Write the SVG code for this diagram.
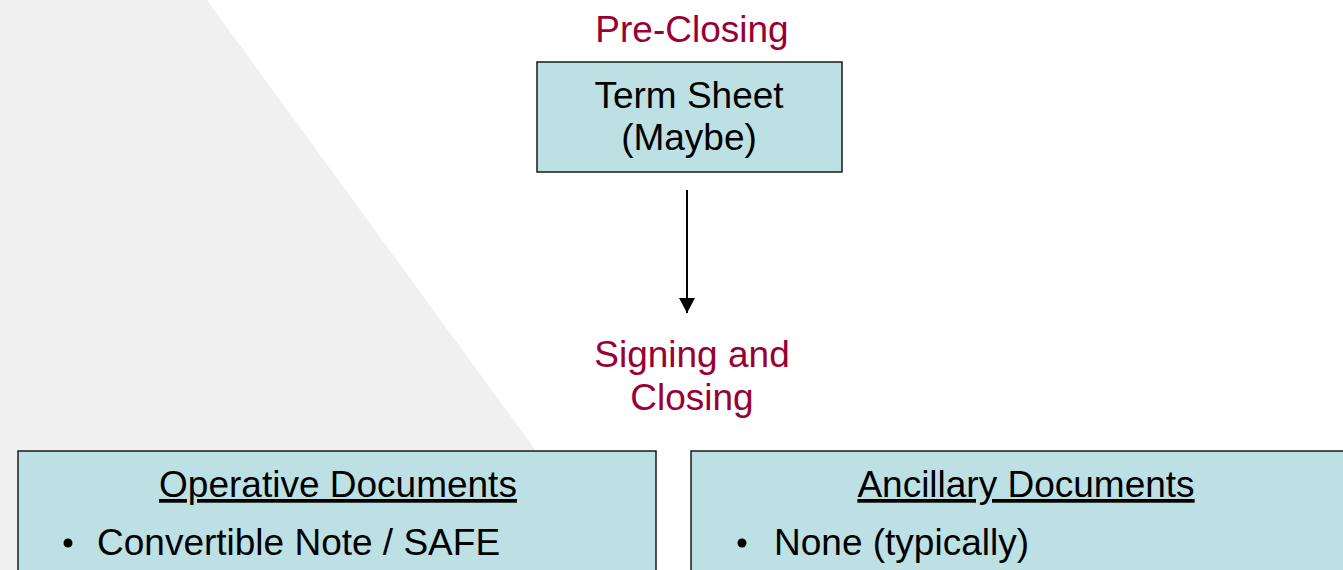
<svg xmlns="http://www.w3.org/2000/svg" width="1343" height="570" viewBox="0 0 1343 570">
<style>
.box{fill:#bce0e3;stroke:#1a1a1a;stroke-width:1.5}
.t{font-family:"Liberation Sans",Arial,sans-serif;font-size:37px;fill:#000}
.red{fill:#990033}
.c{text-anchor:middle}
</style>
<defs>
<marker id="ah" markerWidth="15" markerHeight="16" refX="15" refY="8" orient="auto" markerUnits="userSpaceOnUse">
<path d="M0,0 L15,8 L0,16 Z" fill="#000"/>
</marker>
</defs>
<rect width="1343" height="570" fill="#fff"/>
<polygon points="0,0 207,0 623,570 0,570" fill="#f0f0f0"/>
<g id="pre-closing-label"><text class="t red c" x="692" y="42">Pre-Closing</text></g>
<g id="term-sheet">
<rect class="box" x="537" y="62" width="305" height="110"/>
<text class="t c" x="689" y="108">Term Sheet</text>
<text class="t c" x="689" y="150">(Maybe)</text>
</g>
<g id="connectors">
<line x1="687" y1="190" x2="687" y2="313" stroke="#000" stroke-width="2" marker-end="url(#ah)"/>
</g>
<g id="signing-label">
<text class="t red c" x="692" y="367">Signing and</text>
<text class="t red c" x="692" y="410">Closing</text>
</g>
<g id="operative">
<rect class="box" x="18" y="451" width="638" height="130"/>
<text class="t c" x="338" y="497" text-decoration="underline">Operative Documents</text>
<circle cx="68" cy="543" r="4.5" fill="#000"/>
<text class="t" x="97" y="555">Convertible Note / SAFE</text>
</g>
<g id="ancillary">
<rect class="box" x="691" y="451" width="670" height="130"/>
<text class="t c" x="1026" y="497" text-decoration="underline">Ancillary Documents</text>
<circle cx="742" cy="543" r="4.5" fill="#000"/>
<text class="t" x="774" y="555">None (typically)</text>
</g>
</svg>
